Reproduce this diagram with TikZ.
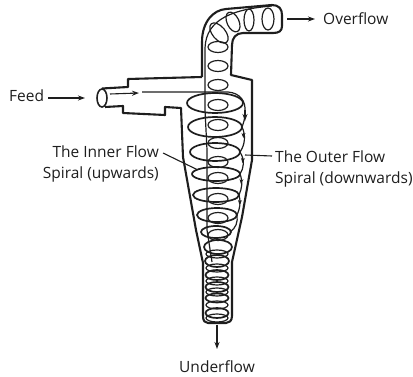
\documentclass[tikz,border=0pt]{standalone}
\usepackage{fontspec}
\setmainfont{Open Sans}
\usetikzlibrary{arrows.meta,shapes.geometric}
\definecolor{ink}{HTML}{1E1E1E}
\tikzset{
  wall/.style={draw=ink,line width=2.1pt,line join=round},
  swirl/.style={draw=ink,line width=1.7pt},
  thin flow/.style={draw=ink,line width=1.2pt},
  smallswirl/.style={draw=ink,line width=1.2pt},
  lead/.style={draw=ink,line width=1.1pt},
  tip/.style={-{Stealth[length=7pt,width=5pt]}},
  lab/.style={text=ink,font=\fontsize{15.5}{20.5}\selectfont,inner sep=0pt},
}
\begin{document}
\begin{tikzpicture}[x=1pt,y=-1pt]
\useasboundingbox (0,0) rectangle (413,377);
% walls
\draw[wall] (202,77) -- (202,42) .. controls (202,22) and (213,10) .. (226,9) -- (272,5)
  .. controls (279,5) and (282,9) .. (282,15) -- (282,26) .. controls (282,31) and (279,33) .. (273,33)
  -- (243,33) .. controls (236,33) and (232,38) .. (232,45) -- (231,75) -- (252,80) -- (252,160)
  -- (242,217) -- (232,262) -- (232,316) .. controls (232,321) and (229,323) .. (226,323)
  -- (208,323) .. controls (205,323) and (203,321) .. (203,316) -- (203,263) -- (196,230) -- (183,157) -- (181,108)
  -- (165,107) -- (165,115) -- (123,113) -- (123,106) -- (105,107);
\draw[wall] (202,77) -- (128,79) -- (128,87) -- (102,88.5);
\node[wall,ellipse,minimum width=10pt,minimum height=18pt,inner sep=0pt,line width=1.6pt] (inlet) at (102,98) {};
% core line
\draw[thin flow] (272,6) .. controls (235,9) and (206,18) .. (205,48) -- (205,110) -- (207,150) -- (207,230) -- (212,262);
% large swirls
\foreach \cy/\rx/\ry/\cx in {103/28/10/215,127/27/10/215,152/25/9/215,174/24/7/216,195/23/7/216,215/20/7/217,232/15/6/216,247/14/7/218,261/12/6/217,275/11.5/5/217,287/11.5/5/217,298/11.5/4.5/217,313/11.5/5/217}{
  \draw[swirl] (\cx,\cy) ellipse [x radius=\rx,y radius=\ry];
}
% small swirls
\foreach \cy in {47,66,85,105,125,143,162,178,199,218,235}{
  \draw[smallswirl] (218,\cy) ellipse [x radius=10,y radius=5.5];
}
\foreach \cy in {254,268,281,292,305,318}{
  \draw[smallswirl] (217,\cy) ellipse [x radius=11,y radius=4];
}
\draw[smallswirl] (219,33) ellipse [x radius=6.5,y radius=12,rotate=40];
\draw[smallswirl] (233,22) ellipse [x radius=6,y radius=10.5,rotate=25];
\draw[smallswirl] (249,20) ellipse [x radius=5,y radius=11];
\draw[smallswirl] (268,19) ellipse [x radius=6,y radius=11];
% outer spiral
\coordinate (o0) at (142,92);
\draw[thin flow] (o0) -- (228,92) .. controls (240,93) and (246,101) .. (245,112)
  .. controls (245,118) and (244,122) .. (242,127)
  .. controls (246,135) and (245,145) .. (240,152)
  .. controls (245,160) and (244,168) .. (240,174)
  .. controls (243,182) and (242,188) .. (239,195)
  .. controls (241,203) and (240,208) .. (237,215)
  .. controls (238,222) and (236,228) .. (230,232);
\coordinate (ta) at (245,110);\coordinate (tb) at (245,121);
\draw[tip,thin flow] (ta) -- (tb);
\foreach \ax/\ay/\bx/\by in {243.5/133/243.3/138,243/158/242.5/163,241.5/179/241/184,240/200/239.5/205}{
  \draw[-{Stealth[length=5pt,width=4pt]},draw=ink,line width=.8pt] (\ax,\ay) -- (\bx,\by);
}
% labels and leaders
\node[lab,anchor=west] (feed) at (9,96) {Feed};
\coordinate (feeda) at (48,98);\coordinate (feedtip) at (85,98);
\draw[lead,tip] (feeda) -- (feedtip);
\coordinate (fa) at (110,94);\coordinate (fb) at (139,93);
\draw[lead,tip] (fa) -- (fb);
\node[lab,anchor=west] (over) at (323,19) {Overflow};
\coordinate (oa) at (287,19);\coordinate (ob) at (315,19);
\draw[lead,tip] (oa) -- (ob);
\node[lab,anchor=north] (under) at (217,360) {Underflow};
\coordinate (ua) at (217,325);\coordinate (ub) at (217,349);
\draw[lead,tip] (ua) -- (ub);
\node[lab,align=right,anchor=east] (inner) at (159,164) {The Inner Flow\\Spiral (upwards)};
\coordinate (ia) at (163,153);\coordinate (it) at (198,170);
\draw[lead] (ia) -- (it);
\node[lab,align=left,anchor=west] (outer) at (275,169) {The Outer Flow\\Spiral (downwards)};
\coordinate (oc) at (272,156);\coordinate (ot) at (245,155);
\draw[lead] (oc) -- (ot);
\end{tikzpicture}
\end{document}
